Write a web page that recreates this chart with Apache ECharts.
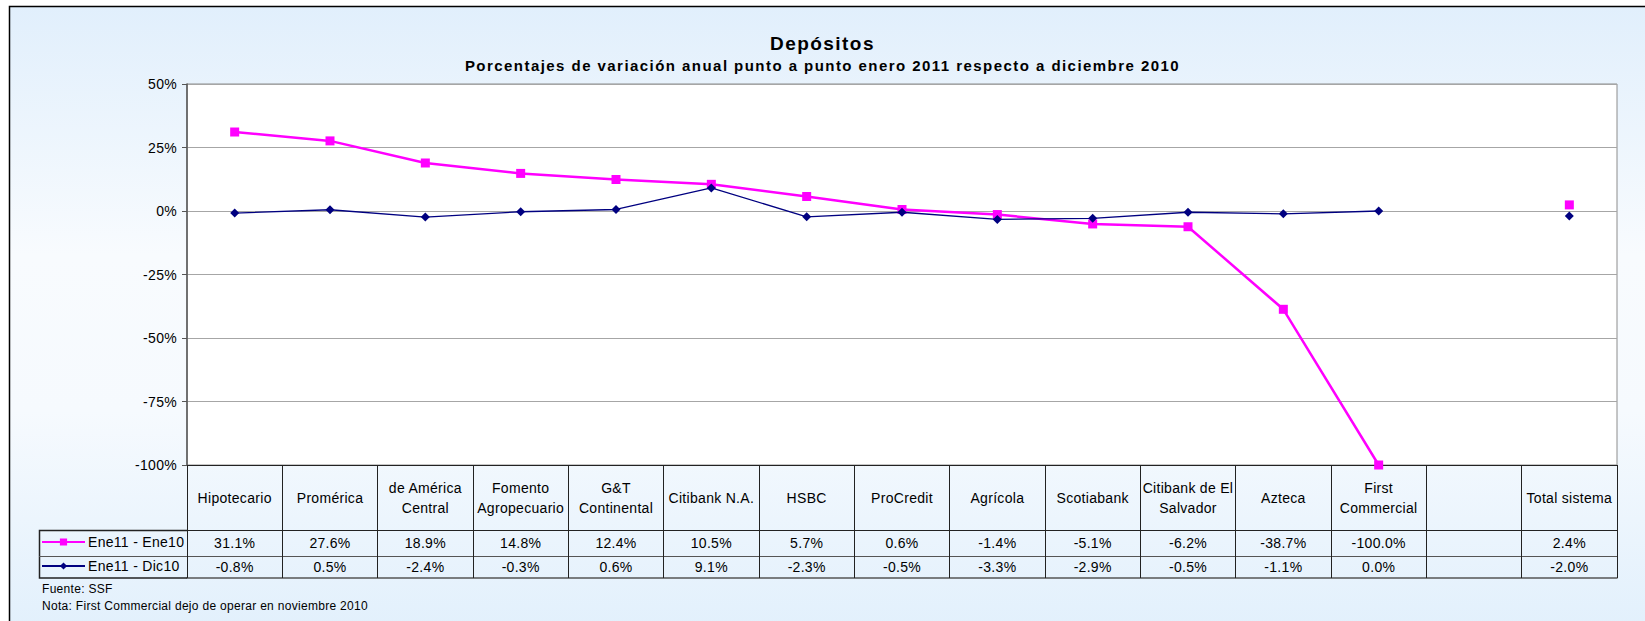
<!DOCTYPE html>
<html><head><meta charset="utf-8">
<script src="https://cdn.jsdelivr.net/npm/echarts@6/dist/echarts.min.js"></script>
<style>
html,body{margin:0;padding:0;background:#fff}
#c{width:1645px;height:621px}
#c svg text{letter-spacing:0.3px}
#c svg text[style*="bold"]{letter-spacing:1.45px}
</style>
</head><body><div id="c"></div>
<script>
// ---- data ----
const categories = ['Hipotecario','Promérica','de América Central','Fomento Agropecuario','G&T Continental','Citibank N.A.','HSBC','ProCredit','Agrícola','Scotiabank','Citibank de El Salvador','Azteca','First Commercial','','Total sistema'];
const headerLabels = ['Hipotecario','Promérica','de América\nCentral','Fomento\nAgropecuario','G&T\nContinental','Citibank N.A.','HSBC','ProCredit','Agrícola','Scotiabank','Citibank de El\nSalvador','Azteca','First\nCommercial','','Total sistema'];
const seriesNames = ['Ene11 - Ene10','Ene11 - Dic10'];
const ene10 = [31.1,27.6,18.9,14.8,12.4,10.5,5.7,0.6,-1.4,-5.1,-6.2,-38.7,-100.0,null,2.4];
const dic10 = [-0.8,0.5,-2.4,-0.3,0.6,9.1,-2.3,-0.5,-3.3,-2.9,-0.5,-1.1,0.0,null,-2.0];
const yTicks = {min:-100, max:50, interval:25};

const fmt = v => (v === null || v === undefined) ? '' : v.toFixed(1) + '%';

// ---- layout ----
const W = 1645, H = 621;
const G = {left:187, right:28, top:84, bottom:156};
const plotBottom = H - G.bottom;   // 465
const hdrH = 65, r1H = 26, r2H = 22;
const legL = 39;
const FONT = 'Liberation Sans, Arial, sans-serif';
const lineCol = '#222';
const FS = 14;

const chart = echarts.init(document.getElementById('c'), null, {renderer:'svg'});

const baseAxis = {type:'category', data:categories, gridIndex:0, position:'bottom', boundaryGap:true};

const legendText = {fontFamily:FONT, fontSize:FS, color:'#000', padding:[0,0,0,-2]};

const option = {
  animation:false,
  textStyle:{fontFamily:FONT},
  title:[
    {text:'Depósitos', left:'center', top:29, textStyle:{fontFamily:FONT, fontSize:19, fontWeight:'bold', color:'#000'}},
    {text:'Porcentajes de variación anual punto a punto enero 2011 respecto a diciembre 2010', left:'center', top:53, textStyle:{fontFamily:FONT, fontSize:15, fontWeight:'bold', color:'#000'}}
  ],
  grid:{left:G.left, right:G.right, top:G.top, bottom:G.bottom, show:true, backgroundColor:'#fff', borderColor:'#8c8c8c', borderWidth:1},
  legend:[
    {data:[seriesNames[0]], left:legL+2, top:plotBottom+hdrH+5, padding:0, itemWidth:43, itemHeight:9, itemGap:0, textStyle:legendText},
    {data:[seriesNames[1]], left:legL+2, top:plotBottom+hdrH+r1H+3, padding:0, itemWidth:43, itemHeight:9, itemGap:0, textStyle:legendText}
  ],
  xAxis:[
    Object.assign({}, baseAxis, {
      axisLine:{show:true, onZero:false, lineStyle:{color:lineCol, width:1}},
      axisTick:{show:true, interval:0, length:hdrH, lineStyle:{color:lineCol}},
      axisLabel:{interval:0, margin:hdrH/2, verticalAlign:'middle', fontSize:FS, color:'#000', lineHeight:20, fontFamily:FONT,
        formatter:(v,i)=>headerLabels[i]},
      splitLine:{show:false}
    }),
    Object.assign({}, baseAxis, {
      offset:hdrH,
      axisLine:{show:true, onZero:false, lineStyle:{color:lineCol, width:1}},
      axisTick:{show:true, interval:0, length:r1H, lineStyle:{color:lineCol}},
      axisLabel:{interval:0, margin:r1H/2, verticalAlign:'middle', fontSize:FS, color:'#000', fontFamily:FONT,
        formatter:(v,i)=>fmt(ene10[i])},
      splitLine:{show:false}
    }),
    Object.assign({}, baseAxis, {
      offset:hdrH+r1H,
      axisLine:{show:true, onZero:false, lineStyle:{color:'#555', width:1}},
      axisTick:{show:true, interval:0, length:r2H, lineStyle:{color:lineCol}},
      axisLabel:{interval:0, margin:r2H/2, verticalAlign:'middle', fontSize:FS, color:'#000', fontFamily:FONT,
        formatter:(v,i)=>fmt(dic10[i])},
      splitLine:{show:false}
    }),
    Object.assign({}, baseAxis, {
      offset:hdrH+r1H+r2H,
      axisLine:{show:true, onZero:false, lineStyle:{color:'#555', width:1.5}},
      axisTick:{show:false}, axisLabel:{show:false}, splitLine:{show:false}
    })
  ],
  yAxis:{
    type:'value', min:yTicks.min, max:yTicks.max, interval:yTicks.interval,
    axisLine:{show:true, lineStyle:{color:'#555', width:1.5}},
    axisTick:{show:true, length:5, lineStyle:{color:'#555'}},
    axisLabel:{formatter:'{value}%', fontSize:FS, color:'#000', margin:10, fontFamily:FONT},
    splitLine:{show:true, lineStyle:{color:'#a6a6a6', width:1}}
  },
  series:[
    {name:seriesNames[0], type:'line', xAxisIndex:0, data:ene10, connectNulls:false,
     symbol:'rect', symbolSize:9, lineStyle:{color:'#ff00ff', width:2.5}, itemStyle:{color:'#ff00ff'}, z:3},
    {name:seriesNames[1], type:'line', xAxisIndex:0, data:dic10, connectNulls:false,
     symbol:'diamond', symbolSize:9, lineStyle:{color:'#000080', width:1.3}, itemStyle:{color:'#000080'}, z:4}
  ],
  graphic:[
    {type:'rect', z:-10, silent:true, shape:{x:10, y:7, width:W, height:H},
     style:{fill:new echarts.graphic.LinearGradient(0,0,0,1,[
       {offset:0, color:'#e1effc'},{offset:0.4, color:'#f8fbfe'},{offset:0.65, color:'#f6fafe'},{offset:1, color:'#e2f0fc'}])}},
    {type:'polyline', z:5, silent:true, shape:{points:[[9.5,H],[9.5,6.5],[W,6.5]]}, style:{stroke:'#000', lineWidth:1.5, fill:null}},
    // legend column frame
    {type:'polyline', z:5, silent:true, shape:{points:[[G.left,plotBottom+hdrH+0.5],[legL+0.5,plotBottom+hdrH+0.5],[legL+0.5,plotBottom+hdrH+r1H+r2H],[G.left,plotBottom+hdrH+r1H+r2H]]},
     style:{stroke:lineCol, lineWidth:1.5, fill:null}},
    {type:'line', z:5, silent:true, shape:{x1:legL, y1:plotBottom+hdrH+r1H+0.5, x2:G.left, y2:plotBottom+hdrH+r1H+0.5}, style:{stroke:'#555', lineWidth:1}},
    {type:'text', left:42, top:583, style:{text:'Fuente: SSF', font:'12px '+FONT, fill:'#000'}},
    {type:'text', left:42, top:600, style:{text:'Nota: First Commercial dejo de operar en noviembre 2010', font:'12px '+FONT, fill:'#000'}}
  ]
};
chart.setOption(option);
</script>
</body></html>
